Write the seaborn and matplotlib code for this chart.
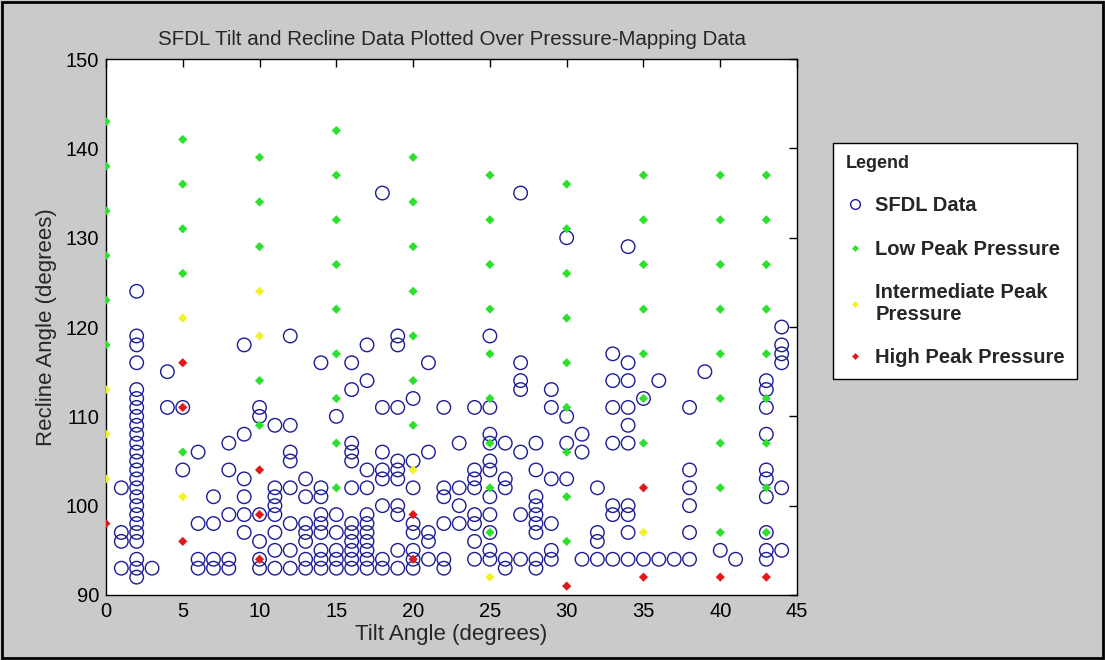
import numpy as np
import pandas as pd
import matplotlib
matplotlib.use("Agg")
import matplotlib.pyplot as plt
from matplotlib.lines import Line2D
from matplotlib.patches import Rectangle
import seaborn as sns

# SFDL data: tilt -> list of recline angles
sfdl = {
    1: [102, 97, 96, 93],
    2: [124, 119, 118, 116] + list(range(96, 114)) + [94, 93, 92],
    3: [93],
    4: [115, 111],
    5: [111, 104],
    6: [106, 98, 94, 93],
    7: [101, 98, 94, 93],
    8: [107, 104, 99, 94, 93],
    9: [118, 108, 103, 101, 99, 97],
    10: [111, 110, 99, 96, 94, 93],
    11: [109, 102, 101, 100, 99, 97, 95, 93],
    12: [119, 109, 106, 105, 102, 98, 95, 93],
    13: [103, 101, 98, 97, 96, 94, 93],
    14: [116, 102, 101, 99, 98, 97, 95, 94, 93],
    15: [110, 99, 97, 95, 94, 93],
    16: [116, 113, 107, 106, 105, 102, 98, 97, 96, 95, 94, 93],
    17: [118, 114, 104, 102, 99, 98, 97, 96, 95, 94, 93],
    18: [135, 111, 106, 104, 103, 100, 94, 93],
    19: [119, 118, 111, 105, 104, 103, 100, 99, 95, 93],
    20: [112, 105, 102, 98, 97, 95, 94, 93],
    21: [116, 106, 97, 96, 94],
    22: [111, 102, 101, 98, 94, 93],
    23: [107, 102, 100, 98],
    24: [111, 104, 103, 102, 99, 98, 96, 94],
    25: [119, 111, 108, 107, 105, 104, 101, 99, 97, 95, 94],
    26: [107, 103, 102, 94, 93],
    27: [135, 116, 114, 113, 106, 99, 94],
    28: [107, 104, 101, 100, 99, 98, 97, 94, 93],
    29: [113, 111, 103, 98, 95, 94],
    30: [130, 110, 107, 103],
    31: [108, 106, 94],
    32: [102, 97, 96, 94],
    33: [117, 114, 111, 107, 100, 99, 94],
    34: [129, 116, 114, 111, 109, 107, 100, 99, 97, 94],
    35: [112, 94],
    36: [114, 94],
    37: [94],
    38: [111, 104, 102, 100, 97, 94],
    39: [115],
    40: [95],
    41: [94],
    43: [114, 113, 111, 108, 104, 103, 101, 97, 95, 94],
    44: [120, 118, 117, 116, 102, 95],
}

# pressure-mapping data: tilt -> recline angles per peak pressure level
low = {
    0: [143, 138, 133, 128, 123, 118],
    5: [141, 136, 131, 126, 106],
    10: [139, 134, 129, 114, 109],
    15: [142, 137, 132, 127, 122, 117, 112, 107, 102],
    20: [139, 134, 129, 124, 119, 114, 109],
    25: [137, 132, 127, 122, 117, 112, 107, 102, 97],
    30: [136, 131, 126, 121, 116, 111, 106, 101, 96],
    35: [137, 132, 127, 122, 117, 112, 107],
    40: [137, 132, 127, 122, 117, 112, 107, 102, 97],
    43: [137, 132, 127, 122, 117, 112, 107, 102, 97],
}
intermediate = {
    0: [113, 108, 103],
    5: [121, 101],
    10: [124, 119],
    20: [104],
    25: [92],
    35: [97],
}
high = {
    0: [98],
    5: [116, 111, 96],
    10: [104, 99, 94],
    20: [99, 94],
    30: [91],
    35: [102, 92],
    40: [92],
    43: [92],
}

sfdl_df = pd.DataFrame([(t, r) for t, rs in sfdl.items() for r in rs],
                       columns=["tilt", "recline"])
rows = []
for name, d in [("Low Peak Pressure", low),
                ("Intermediate Peak\nPressure", intermediate),
                ("High Peak Pressure", high)]:
    for t, rs in d.items():
        for r in rs:
            rows.append((t, r, name))
press_df = pd.DataFrame(rows, columns=["tilt", "recline", "level"])

blue = "#1c1c96"
colors = {"Low Peak Pressure": "#2ee02e",
          "Intermediate Peak\nPressure": "#f2f22a",
          "High Peak Pressure": "#e01a1a"}

sns.set_theme(style="white")
plt.rcParams["font.family"] = ["Liberation Sans", "DejaVu Sans"]

fig = plt.figure(figsize=(11.05, 6.6), dpi=100)
fig.patch.set_facecolor("#cacaca")
ax = fig.add_axes([0.0959, 0.0985, 0.6254, 0.812])
ax.set_facecolor("white")

sns.scatterplot(data=sfdl_df, x="tilt", y="recline", marker="o", s=95,
                color=blue, facecolor="none", edgecolor=blue, linewidth=1.0,
                ax=ax, legend=False, zorder=2)
sns.scatterplot(data=press_df, x="tilt", y="recline", hue="level",
                palette=colors, marker="D", s=22, linewidth=0,
                ax=ax, legend=False, zorder=3)

ax.set_xlim(0, 45)
ax.set_ylim(90, 150)
ax.set_xticks(np.arange(0, 46, 5))
ax.set_yticks(np.arange(90, 151, 10))
ax.tick_params(direction="in", top=True, right=True, length=6, width=1,
               labelsize=14.5, colors="black", pad=5)
for sp in ax.spines.values():
    sp.set_color("black")
    sp.set_linewidth(1)
ax.set_xlabel("Tilt Angle (degrees)", fontsize=16, labelpad=2)
ax.set_ylabel("Recline Angle (degrees)", fontsize=16, labelpad=6)
ax.set_title("SFDL Tilt and Recline Data Plotted Over Pressure-Mapping Data",
             fontsize=14.8, pad=10)

handles = [Line2D([], [], marker="o", ls="none", markersize=7,
                  markerfacecolor="none", markeredgecolor=blue,
                  markeredgewidth=1, label="SFDL Data")]
for name, c in colors.items():
    handles.append(Line2D([], [], marker="D", ls="none", markersize=3.5,
                          markerfacecolor=c, markeredgewidth=0, label=name))
leg = fig.legend(handles=handles, loc="upper left",
                 bbox_to_anchor=(0.754, 0.783), title="Legend",
                 alignment="left", frameon=True, fancybox=False,
                 edgecolor="black", framealpha=1,
                 prop={"weight": "bold", "size": 14.5},
                 title_fontproperties={"weight": "bold", "size": 13},
                 labelspacing=1.2, handletextpad=0.5, handlelength=1.0,
                 borderpad=0.6, borderaxespad=0)
leg.get_frame().set_linewidth(1)

# underline the legend title
fig.canvas.draw()
bb = leg.get_title().get_window_extent()
inv = fig.transFigure.inverted()
(x0, y0), (x1, _) = inv.transform([(bb.x0, bb.y0 - 2), (bb.x1, bb.y0)])
fig.add_artist(Line2D([x0, x1], [y0, y0], color="black", lw=1))

# outer frame
fig.add_artist(Rectangle((0.002, 0.003), 0.996, 0.994, transform=fig.transFigure,
                         fill=False, edgecolor="black", lw=2))

fig.savefig("out.png", dpi=100, facecolor=fig.get_facecolor())
